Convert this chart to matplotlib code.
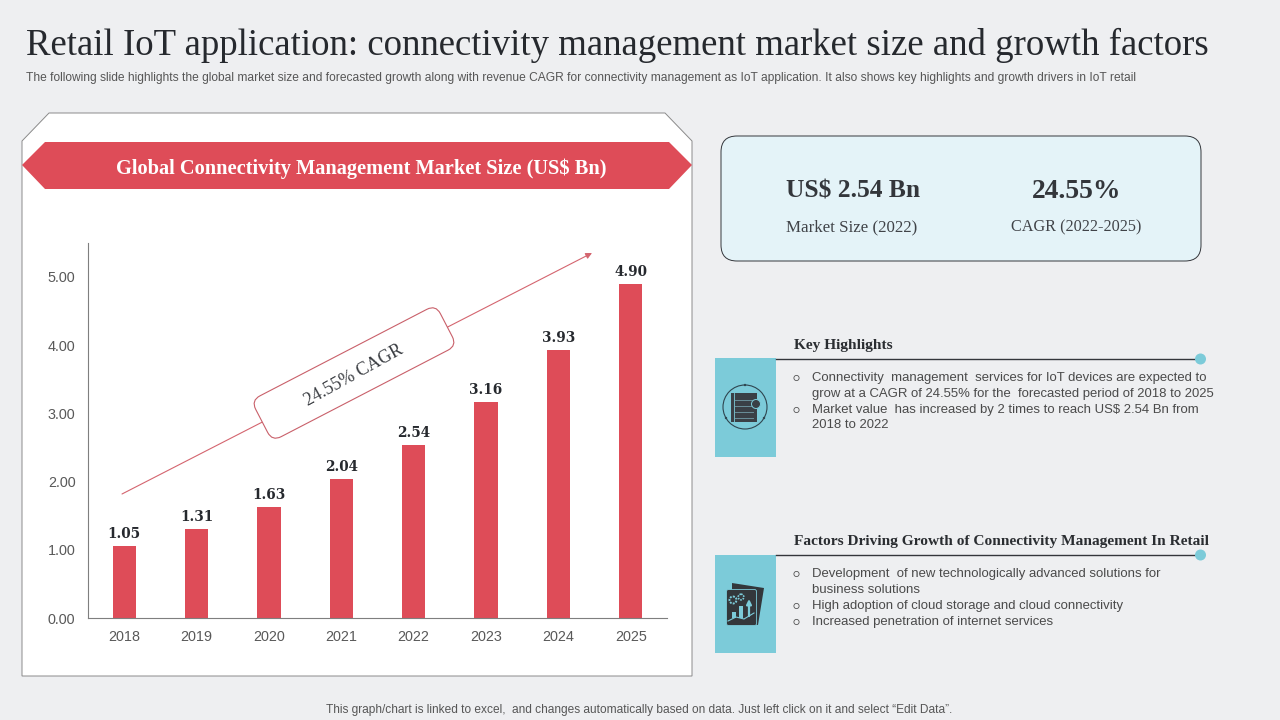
import matplotlib
matplotlib.use("Agg")
import matplotlib.pyplot as plt
from matplotlib.patches import Polygon, FancyBboxPatch, Rectangle, Circle
from matplotlib.transforms import Affine2D

years = ["2018", "2019", "2020", "2021", "2022", "2023", "2024", "2025"]
market_size = [1.05, 1.31, 1.63, 2.04, 2.54, 3.16, 3.93, 4.90]
y_ticks = [0, 1, 2, 3, 4, 5]

RED = "#DE4C58"; TEAL = "#7CCBD9"; BG = "#EEEFF1"; DARK = "#2F3237"; GREY = "#565656"
SERIF = "Liberation Serif"; SANS = "Liberation Sans"

fig = plt.figure(figsize=(12.8, 7.2), dpi=100, facecolor=BG)
ov = fig.add_axes([0, 0, 1, 1], zorder=0)
ov.set_xlim(0, 1280); ov.set_ylim(720, 0); ov.axis("off")

def T(x, y, s, size, **k):
    k.setdefault("color", DARK); k.setdefault("family", SANS); k.setdefault("va", "center")
    return ov.text(x, y, s, fontsize=size * 0.72, **k)

# header
T(26, 45, "Retail IoT application: connectivity management market size and growth factors", 36.7, family=SERIF, color="#26292E")
T(26, 78, "The following slide highlights the global market size and forecasted growth along with revenue CAGR for connectivity management as IoT application. It also shows key highlights and growth drivers in IoT retail", 11.97, color=GREY)
T(639, 710, "This graph/chart is linked to excel,  and changes automatically based on data. Just left click on it and select “Edit Data”.", 11.95, color=GREY, ha="center")

# left panel
ov.add_patch(Polygon([(22, 141), (49, 113), (665, 113), (692, 141), (692, 676), (22, 676)],
                     fc="white", ec="#8A8A8A", lw=0.7))
ov.add_patch(Polygon([(22, 165), (45, 142), (669, 142), (692, 165), (669, 189), (45, 189)], fc=RED, ec="none"))
T(361, 169, "Global Connectivity Management Market Size (US$ Bn)", 20.4, family=SERIF, color="white", ha="center", weight="bold")

# CAGR arrow and label
ov.annotate("", xy=(592, 253), xytext=(122, 494),
            arrowprops=dict(arrowstyle="-|>", color="#D4656F", lw=0.8, mutation_scale=9, shrinkA=0, shrinkB=0))
cx, cy, w, h = 354, 373, 208, 46
ov.add_patch(FancyBboxPatch((cx - w/2 + 8, cy - h/2 + 8), w - 16, h - 16, boxstyle="round,pad=8,rounding_size=10",
                            fc="white", ec="#C9606A", lw=0.8, mutation_aspect=1,
                            transform=Affine2D().rotate_deg_around(cx, cy, -27.4) + ov.transData, zorder=4))
T(cx, cy + 2, "24.55% CAGR", 18, family=SERIF, ha="center", rotation=29, rotation_mode="anchor", zorder=5, color="#3A3D42")

# KPI box
ov.add_patch(FancyBboxPatch((735, 150), 452, 97, boxstyle="round,pad=14,rounding_size=16",
                            fc="#E4F3F8", ec="#33363B", lw=0.7))
T(853, 191, "US$ 2.54 Bn", 25.5, family=SERIF, ha="center", color="#33363B", weight="bold")
T(1077, 191, "24.55%", 27.5, family=SERIF, ha="center", color="#33363B", weight="bold")
T(852, 227, "Market Size (2022)", 16.9, family=SERIF, ha="center", color="#404348")
T(1076, 227, "CAGR (2022-2025)", 16.2, family=SERIF, ha="center", color="#404348")

# right sections
def section(top, bot, liney, title, titley, lines):
    ov.add_patch(Rectangle((715, top), 61, bot - top, fc=TEAL, ec="none"))
    ov.plot([776, 1200], [liney, liney], color="#33363B", lw=1)
    ov.add_patch(Circle((1200.5, liney), 5.5, fc=TEAL, ec="none", zorder=3))
    T(794, titley, title, 15.35, family=SERIF, weight="bold", color="#2A2D31")
    for y, bullet, s in lines:
        if bullet:
            ov.add_patch(Circle((796.5, y + 1), 2.6, fc="none", ec="#555555", lw=0.6))
        T(812, y + 1, s, 13.1, color="#4A4A4A")

section(358, 457, 359, "Key Highlights", 346, [
    (377, True, "Connectivity  management  services for IoT devices are expected to"),
    (393, False, "grow at a CAGR of 24.55% for the  forecasted period of 2018 to 2025"),
    (409, True, "Market value  has increased by 2 times to reach US$ 2.54 Bn from"),
    (424, False, "2018 to 2022"),
])
section(555, 653, 555, "Factors Driving Growth of Connectivity Management In Retail", 542, [
    (573, True, "Development  of new technologically advanced solutions for"),
    (589, False, "business solutions"),
    (605, True, "High adoption of cloud storage and cloud connectivity"),
    (621, True, "Increased penetration of internet services"),
])

# icon 1: document in a ring
ov.add_patch(Circle((745, 407), 22, fc="none", ec="#2F4650", lw=0.8))
ov.add_patch(Rectangle((731, 393), 26, 29, fc="#3A4046", ec="none"))
for yy in (400, 406, 412, 418):
    ov.plot([735, 753], [yy, yy], color="#6A8F99", lw=0.7)
ov.plot([734, 734], [393, 422], color=TEAL, lw=0.6)
ov.add_patch(Circle((756, 404), 4.5, fc="#3A4046", ec=TEAL, lw=0.7, zorder=3))
for a, b in ((745, 385), (726, 418), (764, 418)):
    ov.add_patch(Circle((a, b), 1.2, fc="#2F4650", ec="none"))

# icon 2: folders with gears and growth arrow
ov.add_patch(Polygon([(732, 583), (764, 588), (758, 625), (732, 622)], fc="#33373B", ec="none"))
ov.add_patch(FancyBboxPatch((727, 590), 29, 35, boxstyle="round,pad=0.5,rounding_size=2", fc="#33373B", ec=TEAL, lw=0.6))
ov.add_patch(Circle((733, 600), 3.5, fc="none", ec=TEAL, lw=1.4, ls=(0, (1, 0.6))))
ov.add_patch(Circle((741, 597), 2.8, fc="none", ec=TEAL, lw=1.2, ls=(0, (1, 0.6))))
for bx, bh in ((732, 6), (739, 12)):
    ov.add_patch(Rectangle((bx, 618 - bh), 4, bh, fc=TEAL, ec="none"))
ov.annotate("", xy=(749, 599), xytext=(749, 616),
            arrowprops=dict(arrowstyle="-|>", color=TEAL, lw=1.6, mutation_scale=7, shrinkA=0, shrinkB=0))
ov.plot([728, 736, 744, 754], [621, 617, 619, 613], color=TEAL, lw=0.8)

# chart
x0, x1, ybase, ytop = 88, 667, 618, 243
ax = fig.add_axes([x0 / 1280, 1 - ybase / 720, (x1 - x0) / 1280, (ybase - ytop) / 720], zorder=1)
ax.patch.set_alpha(0)
xs = range(len(years))
bars = ax.bar(xs, market_size, width=0.32, color=RED)
ax.set_xlim(-0.5, len(years) - 0.5)
ax.set_ylim(0, (ybase - ytop) / 68.2)
ax.set_xticks(list(xs), years)
ax.set_yticks(y_ticks, [f"{v:.2f}" for v in y_ticks])
ax.tick_params(length=0, labelsize=10.4, colors="#595959", labelfontfamily=SANS)
ax.tick_params(axis="x", pad=8.3)
ax.tick_params(axis="y", pad=9)
for s in ("top", "right"):
    ax.spines[s].set_visible(False)
for s in ("left", "bottom"):
    ax.spines[s].set_color("#7F7F7F"); ax.spines[s].set_linewidth(0.8)
for xv, v in zip(xs, market_size):
    ax.annotate(f"{v:.2f}", (xv, v), xytext=(0, 3.6), textcoords="offset points", ha="center", va="bottom",
                fontsize=9.8, family="DejaVu Serif", weight="bold", color="#26292E")

fig.savefig("out.png", dpi=100, facecolor=BG)
